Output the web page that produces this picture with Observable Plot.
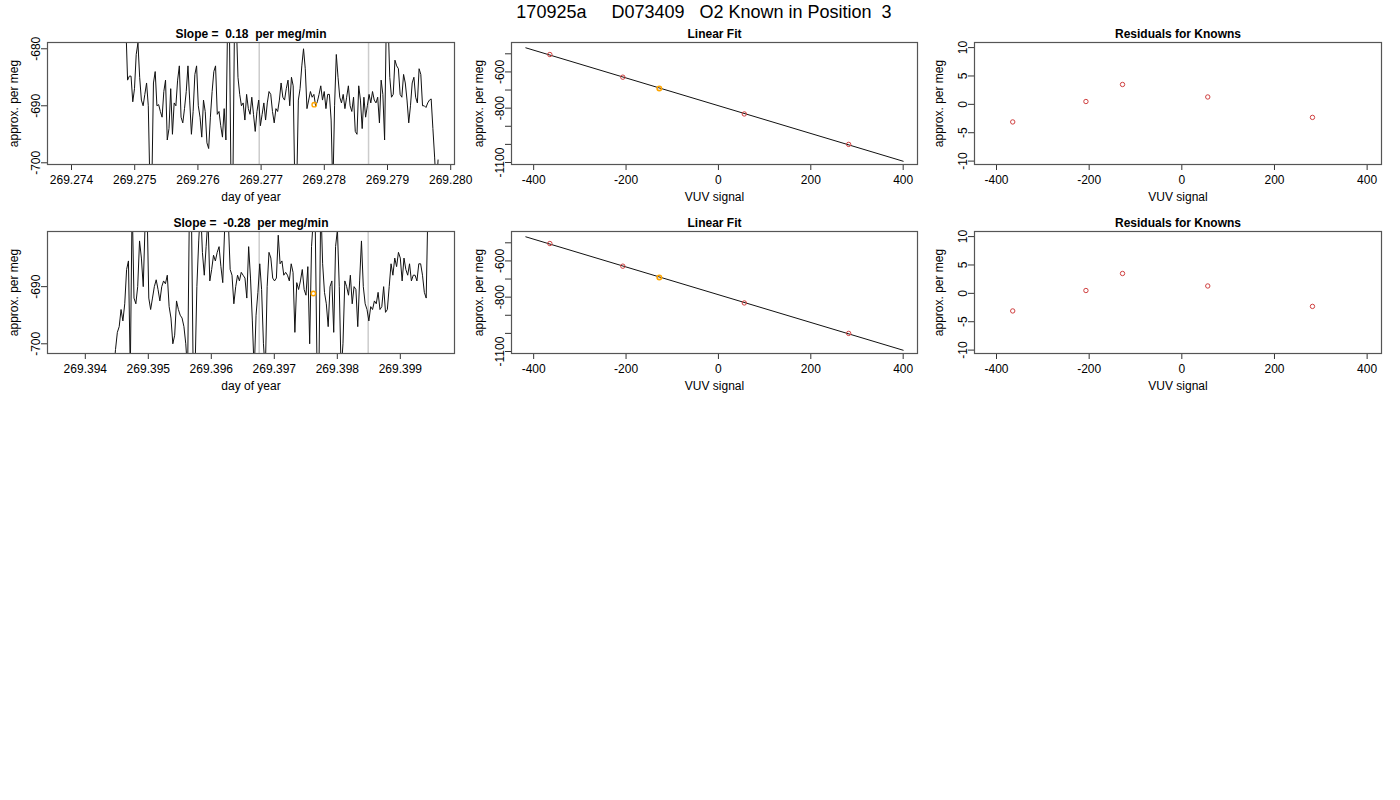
<!DOCTYPE html>
<html><head><meta charset="utf-8">
<script src="https://cdn.jsdelivr.net/npm/d3@7"></script>
<script src="https://cdn.jsdelivr.net/npm/@observablehq/plot@0.6"></script>
<style>
body{margin:0;background:#fff;font-family:"Liberation Sans",Arial,sans-serif;}
#wrap{position:relative;width:1400px;height:800px;}
#title{position:absolute;top:0;left:0;width:1408px;text-align:center;font-size:18px;line-height:24px;white-space:pre;}
.p{position:absolute;}
</style></head><body>
<div id="wrap"><div id="title">170925a     D073409   O2 Known in Position  3</div></div>
<script>
// ---- data ----
const titles1 = ["Slope =  0.18  per meg/min", "Slope =  -0.28  per meg/min"];
const seriesStart = [269.27486, 269.39445];
const seriesEnd = [269.27980, 269.39944];
const series1 = [-676,-685.5,-684.8,-684.8,-689.3,-687,-681,-679,-685,-689,-690,-688,-686,-690,-705,
-705,-686,-684,-690,-689.8,-691,-692,-687.5,-685.5,-696,-694,-687,-695,-689.5,-690,-685.5,-683,-692,-693,-690.5,-687.5,-683,-689,-695,-691,-684.5,-683,-690,-692,-695.5,
-689,-691,-696.5,-697.5,-692,-687.5,-684,-683,-691.5,-691,-693.5,-695.5,-690.5,-696,-675,-675,-705,-705,-675,-675,
-685,-688,-690,-689.5,-692.5,-688,-690.5,-691.5,-688.5,-691.5,-694.5,-691,-689,-693.5,-691.5,-689.5,-692.5,-689.5,-687.5,-688,-691,-693,-690.5,-691,-689,-686,-688.5,-689,-687,-685.5,-690,-685,-686.5,-705,-705,-689,-687,-683,-680,-683.5,-690.5,-689,-687.5,-688.5,-688,-690,-689.3,-688,-686.5,-689,-687.5,-690.5,-688,-688,-692.5,-705,-690,-681,-685,-688.5,-689.5,-688,-690.5,-688.5,-686.5,-690,-691,-688.5,-694.5,-695,-686.5,-689,-694,-688.5,-692,-690,-688,-689.5,-687.5,-689,-689.5,-688.5,-693,-685.5,-688,-696,-675,-675,-685,-688.5,-688,-682,-683,-683.5,-688,-688.5,-684.5,-686,-689,-693,-690,-686,-685,-688.5,-689.5,-683.5,-684.5,-690,-690,-690.3,-689.5,-689,-688.8,-694,-699,-705,-699.5];
const series2 = [-705,-701,-698,-697,-694,-696,-693,-687,-685.5,-705,-675,-692,-693,-690,-682,-685,-690,-679,-675,-692,-694,-692,-690,-688.8,-690.5,-692.5,-690,-689,-689.5,-688,-693.5,-695.5,-700,-698.5,-692.5,-694,-695,-695.5,-697,-700,-705,-675,-675,-705,-705,-690,-682,-676,-684,-688,-683,-678,-689,-687,-684.5,-685.5,-684,-683,-686.5,-689.3,-680,-678,-678.5,-687,-688,-693,-690,-688,-689,-687.5,-688,-688.5,-692,-683,-688.5,-696,-705,-695,-691,-686,-690.5,-700,-705,-690,-684,-685,-688.5,-689,-688.5,-681,-686,-685.5,-688,-687.5,-688,-689,-686,-687.5,-698,-689.3,-690.5,-689,-687,-690.5,-691.5,-686.5,-700,-683,-678,-679,-705,-705,-675,-686,-691,-693,-697,-690,-689,-698,-683,-680,-690,-705,-700,-689,-690,-691.5,-688,-693,-690,-690.5,-697,-689,-682,-690,-693,-694,-696,-693.5,-694,-692.5,-693,-691,-694,-693.5,-690,-694.5,-694,-690,-686,-688,-685,-686.5,-684,-685,-689,-685,-687,-688,-686,-689,-688,-688,-689,-686,-686,-688,-691,-692,-675];
const grayLines = [[269.27697, 269.27870], [269.39676, 269.39849]];
const orangePt = [[269.27784, -689.8], [269.39762, -691.2]];
const xDomain1 = [[269.27362, 269.28006], [269.3934, 269.39986]];
const yDomain1 = [[-700.3, -678.9], [-701.7, -680.35]];
const xTicks1 = [[269.274,269.275,269.276,269.277,269.278,269.279,269.280],[269.394,269.395,269.396,269.397,269.398,269.399]];
const yTicks1 = [[-700,-690,-680],[-700,-690]];
const vuv = [-365, -207, -128, 56, 282];
const perMeg = [-504, -629, -691, -832, -1000];
const residuals = [-3.1, 0.5, 3.5, 1.3, -2.3];
const fitLine = [[-417, -467], [400, -1093]];
const knownIdx = 2;
const fitTicks = [-500,-600,-700,-800,-900,-1000,-1100];
const fitTickLabels = {"-600":"-600","-800":"-800","-1100":"-1100"};
const resTicks = [-10,-5,0,5,10];
const vuvTicks = [-400,-200,0,200,400];

const wrap = document.getElementById("wrap");
const FONT = "Liberation Sans, Arial, sans-serif";
function place(svg, left, top){ svg.classList.add("p"); svg.style.left=left+"px"; svg.style.top=top+"px"; wrap.appendChild(svg); }

function base(o){
  return Plot.plot({
    width: 470, height: 175, marginTop: 17, marginBottom: 36,
    marginLeft: o.ml, marginRight: o.mr,
    style: {fontFamily: FONT, fontSize: "12px", background: "transparent", overflow: "visible"},
    x: {domain: o.xd, label: null, axis: null},
    y: {domain: o.yd, label: null, axis: null},
    marks: [
      ...o.marks,
      Plot.axisX(o.xt, {tickSize: 6, tickPadding: 5, fontSize: 12, tickFormat: o.xf, stroke:"#333"}),
      Plot.axisY(o.yt, {tickSize: 6, tickPadding: 2, fontSize: 12, tickRotate: -90, tickFormat: o.yf, stroke:"#333"}),
      Plot.frame({stroke: "#555", strokeWidth: 1.2}),
      Plot.text([o.title], {frameAnchor: "top", dy: -13, fontWeight: "bold", fontSize: 12, text: d=>d}),
      Plot.text([o.xl], {frameAnchor: "bottom", dy: 36, fontSize: 12, text: d=>d}),
      Plot.text([o.yl], {frameAnchor: "left", dx: -o.ml + 14, rotate: -90, textAnchor: "middle", fontSize: 12, text: d=>d})
    ]
  });
}

for (let r = 0; r < 2; r++) {
  const vals = r === 0 ? series1 : series2;
  const n = vals.length;
  const t0 = seriesStart[r], t1 = seriesEnd[r];
  const ts = vals.map((v, i) => ({t: t0 + (t1 - t0) * i / (n - 1), v}));
  const top = r === 0 ? 25 : 214;
  place(base({
    ml: 47, mr: 16, xd: xDomain1[r], yd: yDomain1[r], xt: xTicks1[r], yt: yTicks1[r],
    xf: d3.format(".3f"), yf: d=>String(d),
    title: titles1[r], xl: "day of year", yl: "approx. per meg",
    marks: [
      Plot.ruleX(grayLines[r], {stroke: "#ccc", strokeWidth: 1.5}),
      Plot.line(ts, {x: "t", y: "v", stroke: "#111", strokeWidth: 1, clip: true}),
      Plot.dot([orangePt[r]], {x: d=>d[0], y: d=>d[1], r: 2.2, stroke: "orange", strokeWidth: 1.4})
    ]
  }), 0, top);

  const pts = vuv.map((x, i) => ({x, y: perMeg[i], res: residuals[i], k: i === knownIdx}));
  place(base({
    ml: 46, mr: 18, xd: [-448, 431], yd: [-1111, -437.6], xt: vuvTicks, yt: fitTicks,
    xf: d=>String(d), yf: d => fitTickLabels[String(d)] || "",
    title: "Linear Fit", xl: "VUV signal", yl: "approx. per meg",
    marks: [
      Plot.line(fitLine, {x: d=>d[0], y: d=>d[1], stroke: "#111", strokeWidth: 1}),
      Plot.dot(pts, {x: "x", y: "y", r: 2.2, stroke: d => d.k ? "orange" : "#d04040", strokeWidth: d => d.k ? 1.6 : 1})
    ]
  }), 465, top);

  place(base({
    ml: 49, mr: 14, xd: [-447.5, 431], yd: [-10.6, 10.9], xt: vuvTicks, yt: resTicks,
    xf: d=>String(d), yf: d=>String(d),
    title: "Residuals for Knowns", xl: "VUV signal", yl: "approx. per meg",
    marks: [
      Plot.dot(pts, {x: "x", y: "res", r: 2.2, stroke: "#d04040", strokeWidth: 1})
    ]
  }), 925, top);
}
</script>
</body></html>
